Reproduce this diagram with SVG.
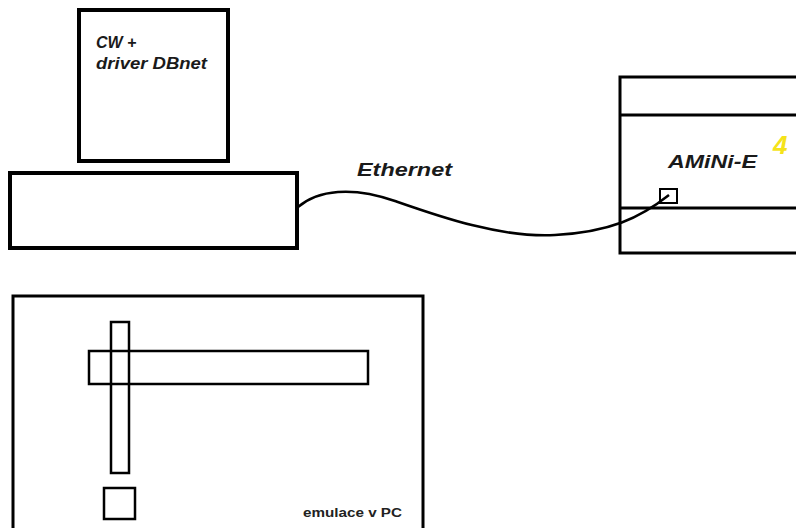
<svg xmlns="http://www.w3.org/2000/svg" width="796" height="528" viewBox="0 0 796 528">
<style>
.box{fill:none;stroke:#000}
.thick{stroke-width:4}
.mid{stroke-width:3}
.thin{stroke-width:2.5}
.lbl{font-family:"Liberation Sans",Arial,sans-serif;font-weight:bold;font-style:italic;fill:#1a1a1a}
</style>
<rect width="796" height="528" fill="#fff"/>
<g id="monitor">
<rect class="box thick" x="79" y="10" width="149" height="151"/>
<text class="lbl" x="96" y="48" font-size="16">CW +</text>
<text class="lbl" x="96" y="69" font-size="16" textLength="111" lengthAdjust="spacingAndGlyphs">driver DBnet</text>
</g>
<g id="pc">
<rect class="box thick" x="10" y="173" width="287" height="75"/>
</g>
<g id="amini">
<path class="box mid" d="M796,77 H620 V253 H796 M620,115 H796 M620,208 H796"/>
<text class="lbl" x="668" y="168" font-size="19" textLength="89" lengthAdjust="spacingAndGlyphs">AMiNi-E</text>
<text x="773" y="154" font-family="Liberation Sans,Arial,sans-serif" font-weight="bold" font-style="italic" font-size="26" fill="#f5e31a">4</text>
<rect class="box" stroke-width="2" x="660" y="189" width="17" height="14"/>
</g>
<g id="emulace">
<rect class="box mid" x="13" y="296" width="410" height="240"/>
<rect class="box thin" x="111" y="322" width="18" height="151"/>
<rect class="box thin" x="89" y="351" width="279" height="33"/>
<rect class="box thin" x="104" y="488" width="31" height="31"/>
<text x="303" y="517" font-family="Liberation Sans,Arial,sans-serif" font-weight="bold" font-size="13" fill="#222" textLength="99" lengthAdjust="spacingAndGlyphs">emulace v PC</text>
</g>
<g id="connectors">
<path fill="none" stroke="#000" stroke-width="2.5" d="M298,207 C318,190 352,186 395,201 S 500,238 555,235 S 640,218 669,195"/>
<text class="lbl" x="357" y="176" font-size="18" textLength="95" lengthAdjust="spacingAndGlyphs">Ethernet</text>
</g>
</svg>
